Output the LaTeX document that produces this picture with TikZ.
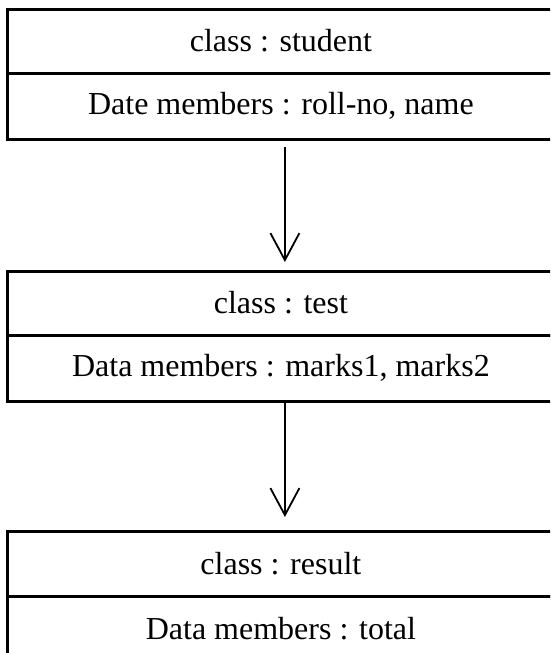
\documentclass[tikz,border=0pt]{standalone}
\usepackage{fontspec}
\setmainfont{Liberation Serif}
\usetikzlibrary{arrows.meta}
\begin{document}
\begin{tikzpicture}[x=1pt,y=-1pt,
  comp/.style={draw=black, line width=3pt, minimum width=546.3pt, inner sep=0pt,
    font=\fontsize{32}{38}\selectfont},
  conn/.style={line width=1.8pt, -{Straight Barb[length=27pt,width=29pt,line width=1.8pt]}}]
\useasboundingbox (0,0) rectangle (550,653);
\clip (0,0) rectangle (550,653);
% box 1
\node[comp, minimum height=64pt] (s1) at (280.9,41) {class : student};
\node[comp, minimum height=66pt] (s2) at (280.9,106) {Date members : roll-no, name};
% box 2
\node[comp, minimum height=64pt] (t1) at (280.9,303) {class : test};
\node[comp, minimum height=66pt] (t2) at (280.9,368) {Data members : marks1, marks2};
% box 3
\node[comp, minimum height=65pt] (r1) at (280.9,563.5) {class : result};
\node[comp, minimum height=66pt] (r2) at (280.9,629) {Data members : total};
% connectors
\draw[conn, shorten <=6.5pt, shorten >=7.5pt] ([xshift=4pt]s2.south) -- ([xshift=4pt]t1.north);
\draw[conn, shorten >=12.5pt] ([xshift=4pt]t2.south) -- ([xshift=4pt]r1.north);
\end{tikzpicture}
\end{document}
